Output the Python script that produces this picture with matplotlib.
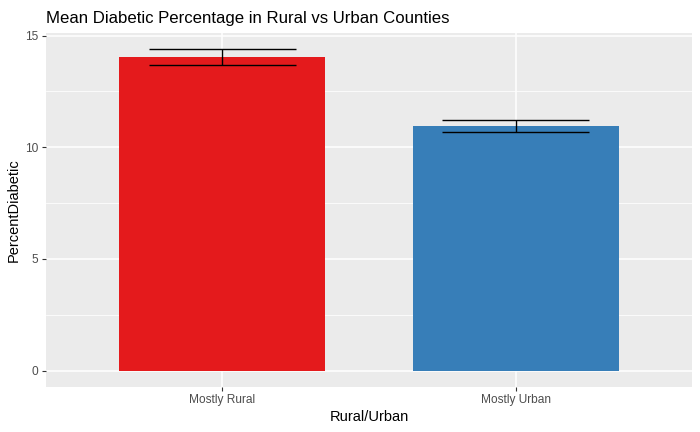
import numpy as np
import matplotlib.pyplot as plt
from matplotlib.ticker import MultipleLocator

# Data
categories = ["Mostly Rural", "Mostly Urban"]
mean_pct = [14.04, 10.95]
se_pct = [0.37, 0.25]
bar_colors = ["#E41A1C", "#377EB8"]

plt.rcParams['font.family'] = ['Liberation Sans', 'DejaVu Sans']

fig = plt.figure(figsize=(7, 4.32), dpi=100)
ax = fig.add_axes([0.0657, 0.1049, 0.9229, 0.8194])
ax.set_facecolor("#EBEBEB")

x = np.arange(1, len(categories) + 1)
ax.bar(x, mean_pct, width=0.7, color=bar_colors, zorder=3)

lo = np.array(mean_pct) - np.array(se_pct)
hi = np.array(mean_pct) + np.array(se_pct)
ax.vlines(x, lo, hi, color="black", lw=1.0, zorder=4)
ax.hlines(lo, x - 0.25, x + 0.25, color="black", lw=1.0, zorder=4)
ax.hlines(hi, x - 0.25, x + 0.25, color="black", lw=1.0, zorder=4)

# ggplot-like expansion
ymax = hi.max()
ax.set_ylim(-0.05 * ymax, ymax * 1.05)
ax.set_xlim(0.4, 2.6)

ax.set_xticks(x)
ax.set_xticklabels(categories)
ax.yaxis.set_major_locator(MultipleLocator(5))
ax.yaxis.set_minor_locator(MultipleLocator(2.5))

ax.grid(which="major", color="white", lw=1.1, zorder=0)
ax.grid(which="minor", axis="y", color="white", lw=0.55, zorder=0)
ax.set_axisbelow(True)
for s in ax.spines.values():
    s.set_visible(False)

ax.tick_params(axis="both", which="major", length=3, width=0.8, color="#333333",
               labelcolor="#4D4D4D", labelsize=8.6, pad=2.5)
ax.tick_params(axis="y", which="minor", length=0)

ax.set_xlabel("Rural/Urban", fontsize=10.5, color="black", labelpad=3)
ax.set_ylabel("PercentDiabetic", fontsize=10.5, color="black", labelpad=3)
ax.set_title("Mean Diabetic Percentage in Rural vs Urban Counties", fontsize=12.1,
             loc="left", x=-0.0, pad=7)

fig.savefig("out.png", dpi=100)
